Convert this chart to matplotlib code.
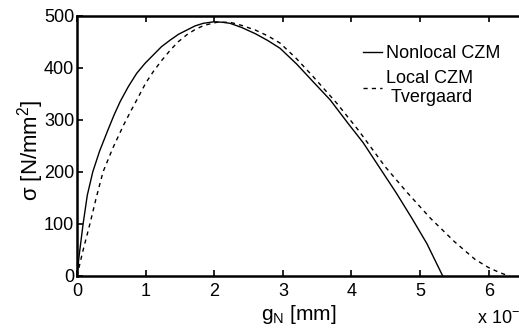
import numpy as np
import matplotlib
matplotlib.use('Agg')
import matplotlib.pyplot as plt

plt.rcParams['font.family'] = ['Liberation Sans', 'DejaVu Sans']
plt.rcParams['mathtext.fontset'] = 'custom'
plt.rcParams['mathtext.rm'] = 'Liberation Sans'
plt.rcParams['mathtext.it'] = 'Liberation Sans:italic'

# Nonlocal CZM (solid), g_N in units of 1e-4 mm
g_nonlocal = [0, 0.03, 0.09, 0.15, 0.23, 0.33, 0.45, 0.54, 0.63, 0.75, 0.87, 0.99, 1.11,
              1.23, 1.36, 1.48, 1.60, 1.72, 1.84, 2.0, 2.12, 2.23, 2.4, 2.6, 2.78,
              2.96, 3.2, 3.44, 3.69, 3.95, 4.17, 4.39, 4.65, 4.88, 5.1, 5.33]
s_nonlocal = [0, 38, 101, 155, 200, 240, 280, 309, 335, 364, 389, 408, 424,
              440, 453, 464, 472, 480, 485, 488, 487, 485, 477, 465, 452,
              437, 407, 373, 338, 293, 256, 212, 160, 111, 62, 0]

# Local CZM Tvergaard (dashed)
g_local = [0, 0.08, 0.19, 0.28, 0.38, 0.52, 0.68, 0.79, 0.90, 1.0, 1.11, 1.23, 1.35,
           1.47, 1.60, 1.72, 1.85, 2.04, 2.23, 2.4, 2.6, 2.78, 2.96, 3.2, 3.44,
           3.79, 4.1, 4.49, 4.8, 5.15, 5.5, 5.8, 6.0, 6.17, 6.3]
s_local = [0, 45, 101, 150, 200, 245, 290, 318, 345, 370, 392, 413, 432,
           449, 463, 473, 481, 487, 487, 481, 472, 461, 447, 417, 383,
           331, 280, 210, 162, 111, 66, 32, 16, 6, 0]

fig = plt.figure(figsize=(5.19, 3.31), dpi=100)
ax = fig.add_axes([77/519, 55/331, 446/519, 260.5/331])

ax.plot(g_nonlocal, s_nonlocal, 'k-', lw=1.0, label='Nonlocal CZM')
ax.plot(g_local, s_local, 'k--', lw=1.0, dashes=(3, 3), label='Local CZM\nTvergaard')

ax.set_xlim(0, 6.5)
ax.set_ylim(0, 500)
ax.set_xticks([0, 1, 2, 3, 4, 5, 6])
ax.set_yticks([0, 100, 200, 300, 400, 500])
ax.tick_params(direction='in', length=4, width=1.2, labelsize=13, top=True, right=False)
ax.tick_params(axis='y', pad=2)
ax.tick_params(axis='x', pad=5)
for sp in ax.spines.values():
    sp.set_linewidth(1.8)

leg = ax.legend(loc='upper left', bbox_to_anchor=(0.62, 0.92), frameon=False, fontsize=13,
                handlelength=1.1, handletextpad=0.2, labelspacing=0.4, borderpad=0)
for t in leg.get_texts():
    t.set_multialignment('right')

fig.text(299/519, 1 - 314/331, r'g$_\mathrm{N}$ [mm]', fontsize=15, ha='center', va='center')
fig.text(31/519, 1 - 150/331, r'σ [N/mm$^2$]', fontsize=16, ha='center', va='center', rotation=90)
fig.text(477/519, 1 - 318/331, r'x 10$^{-4}$', fontsize=13, ha='left', va='center')

fig.savefig('out.png', dpi=100)
